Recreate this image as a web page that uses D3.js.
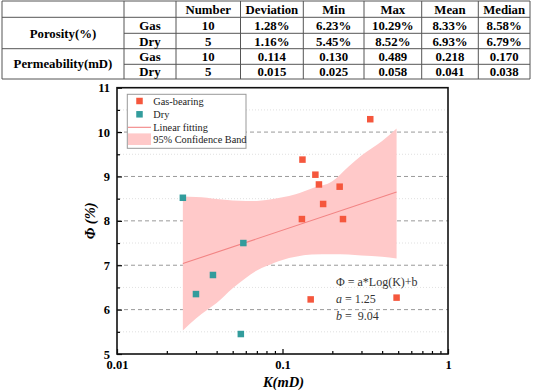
<!DOCTYPE html>
<html>
<head>
<meta charset="utf-8">
<script src="https://cdn.jsdelivr.net/npm/d3@7"></script>
<style>
  body { margin: 0; background: #fff; }
  svg { display: block; }
</style>
</head>
<body>
<svg id="chart" width="533" height="390"></svg>
<script>
// ---- table data ----
const tableHeader = ["Number", "Deviation", "Min", "Max", "Mean", "Median"];
const tableGroups = ["Porosity(%)", "Permeability(mD)"];
const tableTypes = ["Gas", "Dry"];
const tableRows = [
  ["10", "1.28%", "6.23%", "10.29%", "8.33%", "8.58%"],
  ["5", "1.16%", "5.45%", "8.52%", "6.93%", "6.79%"],
  ["10", "0.114", "0.130", "0.489", "0.218", "0.170"],
  ["5", "0.015", "0.025", "0.058", "0.041", "0.038"]
];

// ---- scatter data ----
const gasK   = [0.339, 0.132, 0.158, 0.166, 0.2215, 0.176, 0.131, 0.232, 0.148, 0.489];
const gasPhi = [10.29, 9.38, 9.04, 8.82, 8.77, 8.38, 8.04, 8.04, 6.23, 6.27];
const dryK   = [0.025, 0.058, 0.038, 0.030, 0.056];
const dryPhi = [8.52, 7.50, 6.78, 6.35, 5.45];

// fit  Phi = a*log(K)+b
const fitA = 1.25, fitB = 9.04;
const fitRange = [0.025, 0.489];

// 95% confidence band
const bandK     = [0.025, 0.03, 0.035, 0.04, 0.05, 0.06, 0.07, 0.08, 0.1, 0.12, 0.15, 0.2, 0.25, 0.3, 0.4, 0.489];
const bandUpper = [8.55, 8.54, 8.52, 8.49, 8.46, 8.45, 8.45, 8.47, 8.53, 8.60, 8.73, 8.89, 9.22, 9.47, 9.80, 10.08];
const bandLower = [5.53, 5.80, 5.99, 6.15, 6.48, 6.71, 6.88, 6.98, 7.12, 7.19, 7.24, 7.25, 7.24, 7.22, 7.19, 7.15];

const yTicks = [5, 6, 7, 8, 9, 10, 11];
const xTicks = [0.01, 0.1, 1];

const serif = "Liberation Serif, Times New Roman, Times, DejaVu Serif, serif";
const svg = d3.select("#chart").attr("font-family", serif);

// ================= table =================
const colX = [2, 124, 176, 240.5, 303.3, 364, 421.7, 478.3, 530];
const rowY = [1, 17.3, 33.3, 48.7, 64.3, 79];
const tbl = svg.append("g").attr("class", "table");
const lineCol = "#555";

[0, 1, 3, 5].forEach(i => {
  tbl.append("line").attr("x1", colX[0]).attr("x2", colX[8])
    .attr("y1", rowY[i]).attr("y2", rowY[i])
    .attr("stroke", lineCol).attr("stroke-width", 1);
});
[2, 4].forEach(i => {
  tbl.append("line").attr("x1", colX[1]).attr("x2", colX[8])
    .attr("y1", rowY[i]).attr("y2", rowY[i])
    .attr("stroke", lineCol).attr("stroke-width", 1);
});
colX.forEach(x => {
  tbl.append("line").attr("x1", x).attr("x2", x)
    .attr("y1", rowY[0]).attr("y2", rowY[5])
    .attr("stroke", lineCol).attr("stroke-width", 1);
});

function cellText(txt, cx, cy) {
  tbl.append("text")
    .attr("x", cx).attr("y", cy + 4.5)
    .attr("text-anchor", "middle")
    .attr("font-size", 12.8)
    .attr("font-weight", "bold")
    .text(txt);
}
tableHeader.forEach((h, i) => cellText(h, (colX[i + 2] + colX[i + 3]) / 2, (rowY[0] + rowY[1]) / 2));
tableGroups.forEach((g, i) => cellText(g, (colX[0] + colX[1]) / 2, (rowY[1 + i * 2] + rowY[3 + i * 2]) / 2));
tableRows.forEach((row, r) => {
  const cy = (rowY[r + 1] + rowY[r + 2]) / 2;
  cellText(tableTypes[r % 2], (colX[1] + colX[2]) / 2, cy);
  row.forEach((v, c) => cellText(v, (colX[c + 2] + colX[c + 3]) / 2, cy));
});

// ================= chart =================
const pLeft = 117, pRight = 448, pTop = 87.7, pBottom = 354;
const x = d3.scaleLog().domain([0.01, 1]).range([pLeft, pRight]);
const y = d3.scaleLinear().domain([5, 11]).range([pBottom, pTop]);

const plot = svg.append("g");

// grid
const minorY = d3.range(5.5, 11, 1);
plot.selectAll(".gridMinor").data(minorY).enter().append("line")
  .attr("x1", pLeft).attr("x2", pRight)
  .attr("y1", d => y(d)).attr("y2", d => y(d))
  .attr("stroke", "#d8d8d8").attr("stroke-width", 0.8)
  .attr("stroke-dasharray", "1,2");
plot.selectAll(".gridMajor").data(yTicks.slice(1, -1)).enter().append("line")
  .attr("x1", pLeft).attr("x2", pRight)
  .attr("y1", d => y(d)).attr("y2", d => y(d))
  .attr("stroke", "#999").attr("stroke-width", 1)
  .attr("stroke-dasharray", "4,3");

// confidence band
const bandData = bandK.map((k, i) => ({ k: k, lo: bandLower[i], hi: bandUpper[i] }));
plot.append("path")
  .datum(bandData)
  .attr("d", d3.area().curve(d3.curveMonotoneX)
    .x(d => x(d.k)).y0(d => y(d.lo)).y1(d => y(d.hi)))
  .attr("fill", "#ffc9c9");

// fit line
plot.append("path")
  .datum(fitRange)
  .attr("d", d3.line().x(d => x(d)).y(d => y(fitA * Math.log10(d) + fitB)))
  .attr("stroke", "#f28484").attr("stroke-width", 1.1).attr("fill", "none");

// points
const ms = 6.5;
const gasPts = gasK.map((k, i) => ({ k: k, p: gasPhi[i] }));
const dryPts = dryK.map((k, i) => ({ k: k, p: dryPhi[i] }));
plot.selectAll(".gas").data(gasPts).enter().append("rect")
  .attr("x", d => x(d.k) - ms / 2).attr("y", d => y(d.p) - ms / 2)
  .attr("width", ms).attr("height", ms).attr("fill", "#f5573d");
plot.selectAll(".dry").data(dryPts).enter().append("rect")
  .attr("x", d => x(d.k) - ms / 2).attr("y", d => y(d.p) - ms / 2)
  .attr("width", ms).attr("height", ms).attr("fill", "#329c9c");

// axes
plot.append("g").attr("transform", `translate(${pLeft},0)`)
  .call(d3.axisLeft(y).tickValues(yTicks).tickFormat(d3.format("d")).tickSizeInner(-5).tickSizeOuter(0).tickPadding(7));
plot.append("g").attr("transform", `translate(${pLeft},0)`)
  .call(d3.axisLeft(y).tickValues(minorY).tickFormat("").tickSizeInner(-3).tickSizeOuter(0));

const minorX = [2, 3, 4, 5, 6, 7, 8, 9].flatMap(m => [m * 0.01, m * 0.1]);
plot.append("g").attr("transform", `translate(0,${pBottom})`)
  .call(d3.axisBottom(x).tickValues(xTicks).tickFormat(d => d3.format("")(d)).tickSizeInner(-5).tickSizeOuter(0).tickPadding(6.5));
plot.append("g").attr("transform", `translate(0,${pBottom})`)
  .call(d3.axisBottom(x).tickValues(minorX).tickFormat("").tickSizeInner(-3).tickSizeOuter(0));

plot.selectAll(".domain").remove();
plot.selectAll("g").attr("font-family", serif).attr("font-size", 12.5);
plot.selectAll(".tick line").attr("stroke", "#000").attr("stroke-width", 1.2);
plot.selectAll(".tick text")
  .attr("fill", "#000")
  .attr("font-weight", "bold");

// frame
plot.append("rect")
  .attr("x", pLeft).attr("y", pTop)
  .attr("width", pRight - pLeft).attr("height", pBottom - pTop)
  .attr("fill", "none").attr("stroke", "#111").attr("stroke-width", 1.6);

// axis titles
svg.append("text")
  .attr("x", (pLeft + pRight) / 2 + 1).attr("y", 387)
  .attr("text-anchor", "middle")
  .attr("font-size", 14.5).attr("font-weight", "bold").attr("font-style", "italic")
  .text("K(mD)");
svg.append("text")
  .attr("transform", `translate(95,${(pTop + pBottom) / 2}) rotate(-90)`)
  .attr("text-anchor", "middle")
  .attr("font-size", 14.5).attr("font-weight", "bold").attr("font-style", "italic")
  .text("Φ (%)");

// legend
const lg = svg.append("g");
lg.append("rect")
  .attr("x", 127.3).attr("y", 94.3).attr("width", 118.7).attr("height", 54)
  .attr("fill", "#fff").attr("stroke", "#999").attr("stroke-width", 1);
const legendItems = [
  { label: "Gas-bearing", type: "gas" },
  { label: "Dry", type: "dry" },
  { label: "Linear fitting", type: "line" },
  { label: "95% Confidence Band", type: "band" }
];
const legendY = [101, 114.3, 127.3, 139.2];
legendItems.forEach((it, i) => {
  const cy = legendY[i];
  if (it.type === "gas" || it.type === "dry") {
    lg.append("rect").attr("x", 139.5 - 3.25).attr("y", cy - 3.25)
      .attr("width", 6.5).attr("height", 6.5)
      .attr("fill", it.type === "gas" ? "#f5573d" : "#329c9c");
  } else if (it.type === "line") {
    lg.append("line").attr("x1", 128).attr("x2", 151).attr("y1", cy).attr("y2", cy)
      .attr("stroke", "#f28484").attr("stroke-width", 1.1);
  } else {
    lg.append("rect").attr("x", 128).attr("y", cy - 5.8).attr("width", 23).attr("height", 11.6)
      .attr("fill", "#ffc9c9");
  }
  lg.append("text").attr("x", 153.3).attr("y", cy + 3.6)
    .attr("font-size", 10.3).attr("fill", "#222")
    .text(it.label);
});

// fit annotation
const ann = svg.append("g").attr("font-size", 12).attr("fill", "#333");
ann.append("text").attr("x", 336).attr("y", 286).text("Φ = a*Log(K)+b");
const ta = ann.append("text").attr("x", 336).attr("y", 303);
ta.append("tspan").attr("font-style", "italic").text("a");
ta.append("tspan").text(" = " + fitA.toFixed(2));
const tb = ann.append("text").attr("x", 336).attr("y", 320);
tb.append("tspan").attr("font-style", "italic").text("b");
tb.append("tspan").text(" =\u00a0 " + fitB.toFixed(2));
</script>
</body>
</html>
